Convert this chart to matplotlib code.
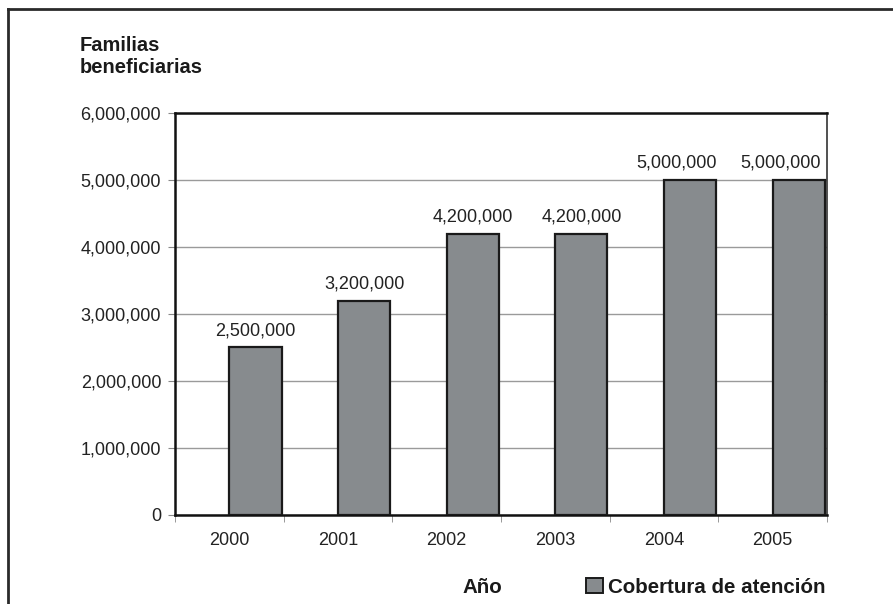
import numpy as np
import matplotlib.pyplot as plt
from matplotlib.lines import Line2D
from matplotlib.patches import Patch

years = ['2000', '2001', '2002', '2003', '2004', '2005']
familias = [2500000, 3200000, 4200000, 4200000, 5000000, 5000000]
serie = 'Cobertura de atención'

plt.rcParams['font.family'] = ['Liberation Sans', 'DejaVu Sans']

fig = plt.figure(figsize=(8.93, 6.04), dpi=100)
ax = fig.add_axes([0.196, 0.1474, 0.730, 0.6655])

x = np.arange(len(years))
bars = ax.bar(x + 0.24, familias, width=0.48, color='#878b8e',
              edgecolor='#1a1a1a', linewidth=1.6, zorder=3, label=serie)

# value labels, the last two nudged left to stay inside the frame
nudge = [0, 0, 0, 0, -9.5, -13]
for b, v, dx in zip(bars, familias, nudge):
    ax.annotate(f'{v:,}', (b.get_x() + b.get_width() / 2, v),
                xytext=(dx, 6), textcoords='offset points',
                ha='center', va='bottom', fontsize=13, color='#222222')

ax.set_xlim(-0.5, len(years) - 0.5)
ax.set_ylim(0, 6000000)
ax.set_yticks(np.arange(0, 6000001, 1000000))
ax.set_yticklabels([f'{int(t):,}' for t in ax.get_yticks()])
ax.set_xticks(x)
ax.set_xticklabels(years)
ax.set_xticks(np.arange(-0.5, len(years)), minor=True)
ax.tick_params(axis='x', which='major', length=0, pad=12, labelsize=13,
               labelcolor='#222222')
ax.tick_params(axis='x', which='minor', length=5, color='#888888')
ax.tick_params(axis='y', length=5, color='#888888', pad=5, labelsize=13,
               labelcolor='#222222')
ax.yaxis.grid(True, color='#9a9a9a', linewidth=1.0, zorder=0)
ax.set_axisbelow(True)

for side in ['left', 'top', 'bottom']:
    ax.spines[side].set_color('#111111')
    ax.spines[side].set_linewidth(1.8)
ax.spines['right'].set_color('#333333')
ax.spines['right'].set_linewidth(1.2)

fig.text(0.0896, 0.940, 'Familias\nbeneficiarias', fontsize=14.5,
         fontweight='bold', ha='left', va='top', color='#1a1a1a',
         linespacing=1.2)
fig.text(0.518, 0.028, 'Año', fontsize=14.8, fontweight='bold',
         ha='left', va='center', color='#1a1a1a')

handle = Patch(facecolor='#878b8e', edgecolor='#1a1a1a', linewidth=1.4)
fig.legend([handle], [serie], loc='center left',
           bbox_to_anchor=(0.636, 0.028), frameon=False, handlelength=0.8,
           handleheight=0.8, handletextpad=0.25,
           prop={'size': 14.8, 'weight': 'bold'}, labelcolor='#1a1a1a')

# outer frame (top and left edges only)
fig.add_artist(Line2D([0.009, 1.0], [0.985, 0.985], color='#2a2a2a',
                      linewidth=2.0, transform=fig.transFigure))
fig.add_artist(Line2D([0.009, 0.009], [0.0, 0.985], color='#2a2a2a',
                      linewidth=2.0, transform=fig.transFigure))

fig.savefig('out.png', dpi=100)
